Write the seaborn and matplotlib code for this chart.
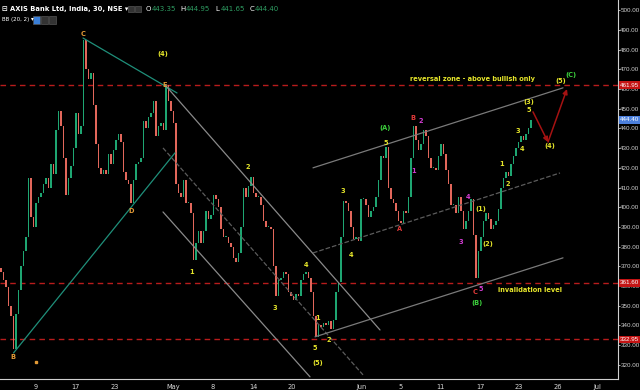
import numpy as np
import pandas as pd
import matplotlib
matplotlib.use("Agg")
import matplotlib.pyplot as plt
import matplotlib.transforms as mtransforms
import seaborn as sns

# 30-min closes (one bar per ~2.5 px)
closes = [
    367, 363, 359.5, 350, 345, 328, 346, 358, 370, 378,
    385, 415, 395, 390, 402, 405, 407, 412, 415, 410,
    422, 417, 439, 449, 441, 425, 406, 415, 421, 430,
    448, 437, 441, 485, 470, 465, 468, 452, 432, 420,
    417, 419, 417, 427, 422, 429, 434, 437, 433, 418,
    414, 412, 402, 414, 422, 423, 425, 444, 440, 446,
    448, 454, 436, 441, 443, 439, 462, 454, 449, 443,
    412, 407, 405, 414, 402, 402, 397, 373, 382, 388,
    382, 388, 398, 394, 396, 406, 404, 400, 389, 385,
    385, 382, 380, 374, 372, 377, 390, 410, 405, 411,
    415.5, 407, 405, 405, 401, 393, 390, 390, 389, 370,
    355, 363, 364, 367, 366, 357, 355, 353, 356, 355,
    363, 366, 367, 364, 357, 345, 334, 340, 339, 341,
    340, 342, 338, 343, 357, 362, 385, 403, 402, 398,
    390, 384, 385, 383, 404, 404, 401, 395, 398, 400,
    405, 414, 426, 425, 430.5, 410, 404, 402, 398, 393,
    392, 398, 397, 405, 425, 441, 434, 429, 432, 439,
    436, 425, 420, 420, 419, 426, 432, 427, 419, 412,
    401, 401, 397, 405, 398, 389, 393, 398, 404, 386,
    364, 378, 385, 393, 397, 394, 389, 391, 393, 399,
    410, 415, 418, 416, 422, 426, 430, 433, 436, 434,
    437, 440, 444.4,
]
first_open = 369.0

level_prices = [461.95, 361.60, 332.95]
last_price = 444.40
y_ticks = list(range(320, 501, 10))

x_tick_bars = [14.0, 29.8, 45.6, 68.8, 84.8, 100.8, 116.4, 144.0, 160.0, 175.6, 191.6, 207.2, 222.8, 238.4]
x_tick_labels = ["9", "17", "23", "May", "8", "14", "20", "Jun", "5", "11", "17", "23", "26", "Jul"]

# drawing tools: (start bar, start price), (end bar, end price), colour, style
trendlines = [
    ((5.0, 326.0), (69.6, 427.6), "#1f8f7a", "-"),
    ((32.8, 485.9), (70.4, 458.0), "#1f8f7a", "-"),
    ((65.6, 462.1), (151.6, 337.7), "#8a8a8a", "-"),
    ((64.8, 430.1), (144.8, 314.9), "#5c5c5c", "--"),
    ((64.8, 397.6), (123.6, 313.9), "#8a8a8a", "-"),
    ((124.8, 420.0), (224.8, 460.6), "#7a7a7a", "-"),
    ((124.8, 376.8), (223.6, 417.4), "#5c5c5c", "--"),
    ((125.6, 334.2), (224.8, 374.3), "#7a7a7a", "-"),
]

# projected path arrows
arrow_path = [(212.8, 448.4), (218.8, 433.1), (226.4, 460.0)]

YEL, GRN, MAG, RED, ORG = "#e5e52a", "#3ccf3c", "#d23cd2", "#e23a3a", "#e39a36"
wave_labels = [
    ("C", 32.8, 487.8, ORG), ("B", 4.8, 324.0, ORG), ("D", 52.0, 398.1, ORG),
    ("E", 65.6, 462.1, ORG), ("(4)", 64.8, 477.8, YEL),
    ("1", 76.4, 367.2, YEL), ("2", 98.8, 420.5, YEL), ("3", 109.6, 348.9, YEL),
    ("4", 122.0, 370.7, YEL), ("5", 125.6, 328.6, YEL), ("(5)", 126.8, 321.0, YEL),
    ("1", 126.8, 343.8, YEL), ("2", 131.2, 332.6, YEL), ("3", 136.8, 408.3, YEL),
    ("4", 140.0, 375.8, YEL), ("(A)", 153.6, 440.2, GRN), ("5", 154.0, 432.6, YEL),
    ("B", 164.8, 445.3, RED), ("2", 168.0, 443.8, MAG), ("1", 165.2, 418.4, MAG),
    ("A", 159.6, 389.0, RED), ("4", 186.8, 405.2, MAG), ("3", 184.0, 382.4, MAG),
    ("(1)", 192.0, 399.1, YEL), ("(2)", 194.8, 381.4, YEL), ("C", 189.6, 357.0, RED),
    ("5", 192.0, 358.5, MAG), ("(B)", 190.4, 351.4, GRN),
    ("1", 200.4, 422.0, YEL), ("2", 202.8, 411.8, YEL), ("3", 206.8, 438.7, YEL),
    ("4", 208.4, 429.6, YEL), ("(3)", 211.2, 453.6, YEL), ("5", 211.2, 449.6, YEL),
    ("(4)", 219.6, 431.1, YEL), ("(5)", 224.0, 464.1, YEL), ("(C)", 228.0, 467.2, GRN),
    ("invalidation level", 211.6, 358.0, YEL),
    ("reversal zone - above bullish only", 188.4, 465.1, YEL),
]

sns.set_theme(style="dark", rc={
    "figure.facecolor": "black", "axes.facecolor": "black",
    "axes.edgecolor": "#cfcfcf", "text.color": "white",
    "xtick.color": "#d8d8d8", "ytick.color": "#d0d0d0",
})
plt.rcParams["font.family"] = ["DejaVu Sans"]

df = pd.DataFrame({"close": closes})
df["open"] = df["close"].shift(1).fillna(first_open)
df["bar"] = np.arange(len(df))
body = df["close"] - df["open"]
body = np.where(body.abs() < 0.5, np.where(body >= 0, 0.5, -0.5), body)
up = df["close"] >= df["open"]

fig = plt.figure(figsize=(6.4, 3.9), dpi=100)
ax = fig.add_axes([0, 11 / 390, 618 / 640, 379 / 390])

ax.bar(df["bar"], body, bottom=df["open"], width=0.55,
       color=np.where(up, "#1ea672", "#e2675b"), linewidth=0, zorder=3)

for lvl in level_prices:
    ax.axhline(lvl, color="#b81c1c", lw=1.0, ls=(0, (4, 3)), zorder=2)

for (x0, y0), (x1, y1), col, ls in trendlines:
    sns.lineplot(x=[x0, x1], y=[y0, y1], ax=ax, color=col, lw=0.9,
                 linestyle=ls, estimator=None, sort=False, zorder=4)

for (xa, ya), (xb, yb) in zip(arrow_path[:-1], arrow_path[1:]):
    ax.annotate("", xy=(xb, yb), xytext=(xa, ya), zorder=6,
                arrowprops=dict(arrowstyle="-|>", color="#a51212", lw=1.1,
                                mutation_scale=7, shrinkA=0, shrinkB=0))

for txt, bx, py, col in wave_labels:
    ax.text(bx, py, txt, color=col, fontsize=4.8, fontweight="bold",
            ha="center", va="center", zorder=7)
ax.plot([14.0], [321.5], marker="s", ms=1.5, color=ORG, zorder=7)

ax.set_xlim(-0.4, 246.8)
ax.set_ylim(312.8, 505.2)

ax.yaxis.tick_right()
ax.set_yticks(y_ticks)
ax.set_yticklabels([f"{v:.2f}" for v in y_ticks], fontsize=4.5, family="Liberation Sans")
ax.set_xticks(x_tick_bars)
ax.set_xticklabels(x_tick_labels, fontsize=4.8)
ax.tick_params(axis="x", direction="out", length=2, width=0.6, pad=1.5)
ax.tick_params(axis="y", direction="out", length=1.2, width=0.6, pad=0.5)
ax.grid(False)
for side in ["top", "left"]:
    ax.spines[side].set_visible(False)
for side in ["right", "bottom"]:
    ax.spines[side].set_color("#d0d0d0")
    ax.spines[side].set_linewidth(0.8)

trans = mtransforms.blended_transform_factory(ax.transAxes, ax.transData)
box_x = 1.0 + 2.0 / 618
for lvl in level_prices:
    ax.text(box_x, lvl, f"{lvl:.2f}", transform=trans, fontsize=4.5, color="white",
            family="Liberation Sans", ha="left", va="center", zorder=10, clip_on=False,
            bbox=dict(boxstyle="square,pad=0.2", fc="#c41414", ec="none"))
ax.text(box_x, last_price, f"{last_price:.2f}", transform=trans, fontsize=4.5,
        family="Liberation Sans", color="white", ha="left", va="center", zorder=10,
        clip_on=False, bbox=dict(boxstyle="square,pad=0.2", fc="#4b7fdc", ec="none"))

# header
fig.text(2 / 640, 1 - 9 / 390, "⊟ AXIS Bank Ltd, India, 30, NSE ▾", fontsize=4.9,
         fontweight="bold", color="white", va="center")
for px in [128, 135]:
    fig.patches.append(plt.Rectangle((px / 640, 1 - 12 / 390), 6 / 640, 6 / 390,
                                     transform=fig.transFigure, fc="#333333", ec="#555555", lw=0.5))
ohlc_letters = ["O", "H", "L", "C"]
ohlc_values = ["443.35", "444.95", "441.65", "444.40"]
for i, (letter, val) in enumerate(zip(ohlc_letters, ohlc_values)):
    x0 = (146 + 34.5 * i) / 640
    fig.text(x0, 1 - 9 / 390, letter, fontsize=5.0, color="white", va="center")
    fig.text(x0 + 5.5 / 640, 1 - 9 / 390, val, fontsize=5.0, color="#2f9e63", va="center")
fig.text(2 / 640, 1 - 20 / 390, "BB (20, 2) ▾", fontsize=4.0, color="white", va="center")
for px, fc in [(33, "#3a7fd8"), (41, "#333333"), (49, "#333333")]:
    fig.patches.append(plt.Rectangle((px / 640, 1 - 23.5 / 390), 7 / 640, 7 / 390,
                                     transform=fig.transFigure, fc=fc, ec="#555555", lw=0.5))

fig.savefig("out.png", dpi=100, facecolor="black")
